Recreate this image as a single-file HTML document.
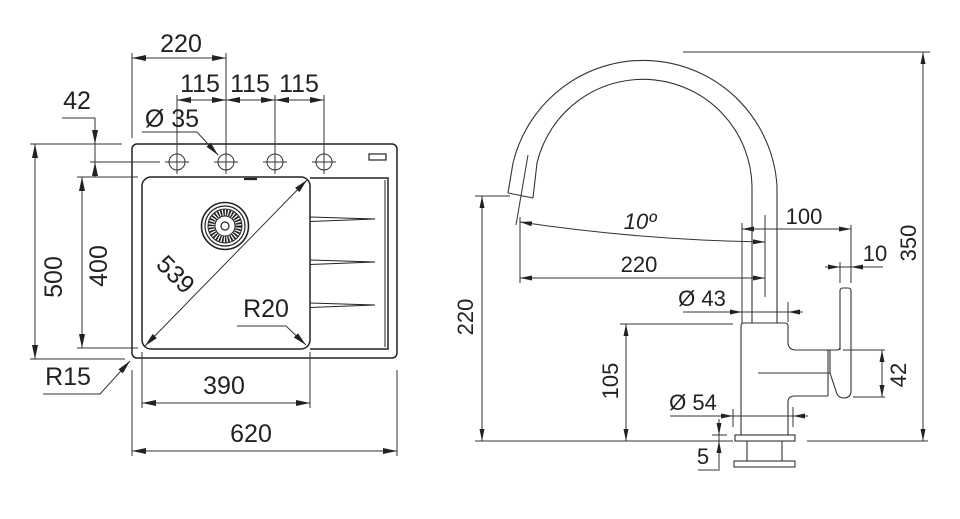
<!DOCTYPE html>
<html><head><meta charset="utf-8"><style>
html,body{margin:0;padding:0;background:#fff;}
svg{display:block;}
text{font-family:"Liberation Sans",Arial,sans-serif;fill:#222;}
</style></head><body>
<svg width="960" height="519" viewBox="0 0 960 519" xmlns="http://www.w3.org/2000/svg">
<defs>
<marker id="m" viewBox="0 0 14 6" refX="14" refY="3" markerWidth="14" markerHeight="6" markerUnits="userSpaceOnUse" orient="auto-start-reverse"><path d="M0,0L14,3L0,6z" fill="#222"/></marker>
<marker id="n" viewBox="0 0 12 5" refX="12" refY="2.5" markerWidth="12" markerHeight="5" markerUnits="userSpaceOnUse" orient="auto-start-reverse"><path d="M0,0L12,2.5L0,5z" fill="#222"/></marker>
</defs>

<!-- ============ LEFT: SINK ============ -->
<g fill="none" stroke="#222" stroke-width="1.5">
<rect x="132" y="144" width="265" height="214" rx="5"/>
<rect x="142" y="177" width="168" height="172" rx="9"/>
<path d="M310,178 L388,178 L388,349 L310,349"/>
<path d="M385,180 L385,347" stroke-width="1"/>
<!-- ribs -->
<path d="M310,217 L375,219 L310,221.5" stroke-width="1.1"/>
<path d="M310,260 L375,262 L310,264.5" stroke-width="1.1"/>
<path d="M310,303 L375,305 L310,307.5" stroke-width="1.1"/>
<!-- overflow -->
<path d="M244,179 L257,179" stroke-width="2.2"/>
<!-- small rect -->
<rect x="369" y="154" width="17" height="6" stroke-width="1.2"/>
</g>
<!-- drain -->
<g fill="none" stroke="#222">
<circle cx="225" cy="226" r="23.5" stroke-width="1.6"/>
<circle cx="225" cy="226" r="20" stroke-width="1.2"/>
<circle cx="225" cy="226" r="17" stroke-width="1"/>
<circle cx="225" cy="226" r="13.5" stroke-width="6" stroke-dasharray="1.6 1.2"/>
<circle cx="225" cy="226" r="10" stroke-width="1"/>
<circle cx="225" cy="226" r="4" stroke-width="1.2"/>
</g>
<!-- tap holes -->
<g fill="none" stroke="#333" stroke-width="1">
<circle cx="177" cy="162" r="8"/><circle cx="226" cy="162" r="8"/><circle cx="275" cy="162" r="8"/><circle cx="324" cy="162" r="8"/>
<path d="M165,162H189M214,162H238M263,162H287M312,162H336"/>
<path d="M177,95V174M226,53V174M275,95V174M324,95V174"/>
</g>

<!-- dimension lines left -->
<g fill="none" stroke="#333" stroke-width="1">
<path d="M132,53V138M30,144H122M30,359H125M77,177H138M77,348H138M90,162H160M62,118H95V177M142,352V408M310,352V408M132,370V456M397,370V456"/>
<line x1="132" y1="58" x2="226" y2="58" marker-start="url(#m)" marker-end="url(#m)"/>
<line x1="177" y1="100" x2="226" y2="100" marker-start="url(#m)" marker-end="url(#m)"/>
<line x1="226" y1="100" x2="275" y2="100" marker-start="url(#m)" marker-end="url(#m)"/>
<line x1="275" y1="100" x2="324" y2="100" marker-start="url(#m)" marker-end="url(#m)"/>
<line x1="95" y1="125" x2="95" y2="144" marker-end="url(#m)"/>
<line x1="95" y1="177" x2="95" y2="162" marker-end="url(#m)"/>
<line x1="35" y1="144" x2="35" y2="359" marker-start="url(#m)" marker-end="url(#m)"/>
<line x1="82" y1="177" x2="82" y2="348" marker-start="url(#m)" marker-end="url(#m)"/>
<line x1="145" y1="346" x2="307" y2="180" marker-start="url(#m)" marker-end="url(#m)"/>
<polyline points="237,326 286,326 306,345" marker-end="url(#m)"/>
<polyline points="43,394 100,394 130,361" marker-end="url(#m)"/>
<polyline points="142,132 197,132 218,155" marker-end="url(#m)"/>
<line x1="142" y1="403" x2="310" y2="403" marker-start="url(#m)" marker-end="url(#m)"/>
<line x1="132" y1="451" x2="397" y2="451" marker-start="url(#m)" marker-end="url(#m)"/>
</g>

<g font-size="25" text-anchor="middle">
<text x="181" y="52">220</text>
<text x="200" y="92">115</text>
<text x="250" y="92">115</text>
<text x="299" y="92">115</text>
<text x="77" y="109">42</text>
<text x="172" y="127">Ø 35</text>
<text x="266" y="317">R20</text>
<text x="68" y="385">R15</text>
<text x="224" y="394">390</text>
<text x="251" y="442">620</text>
<text transform="translate(53,277) rotate(-90)" x="0" y="9">500</text>
<text transform="translate(98,266) rotate(-90)" x="0" y="9">400</text>
<text transform="translate(176,274) rotate(45)" x="0" y="9">539</text>
</g>

<!-- ============ RIGHT: FAUCET ============ -->
<g fill="none" stroke="#333" stroke-width="1.1">
<path d="M508,193 L513,163 A134,134 0 0 1 777,186 L777,323"/>
<path d="M533,198 L537,163 A109,109 0 0 1 752,186 L752,323"/>
<path d="M508,193 L533,198"/>
<path d="M528,155 L516,225" stroke-width="1"/>
<path d="M741,435 L741,326 Q741,323 744,323 L785,323 Q788,323 788,326 L788,342 Q788,350 796,350 L837,350 Q840,350 840,347"/>
<path d="M840,350 L840,291 Q840,288 843,288 L848,288 Q851,288 851,291 L851,392 Q850,398 844,398 Q839,398 837,394 L830,373"/>
<path d="M828,350 L828,396 M830,350 L830,373"/>
<path d="M788,435 L788,402 Q788,396 795,396 L828,396"/>
<path d="M758,373 L830,373" stroke-width="1"/>
<rect x="735" y="435" width="60" height="6"/>
<path d="M747,441 L747,461 M782,441 L782,461"/>
<rect x="734" y="461" width="61" height="6"/>
</g>

<g fill="none" stroke="#333" stroke-width="1">
<path d="M683,52H930M475,196H510M475,441H733M807,441H928M520,217V283M765,215V297M742,223V323M851,225V283M840,262V283M788,302V322M620,324H733M733,409V427M793,407V427M712,435H727M698,470H720M843,350H885M853,397H885"/>
<line x1="923" y1="52" x2="923" y2="441" marker-start="url(#n)" marker-end="url(#n)"/>
<line x1="482" y1="196" x2="482" y2="441" marker-start="url(#n)" marker-end="url(#n)"/>
<path d="M520,222 Q640,240 765,242" marker-start="url(#n)" marker-end="url(#n)"/>
<line x1="520" y1="278" x2="765" y2="278" marker-start="url(#n)" marker-end="url(#n)"/>
<line x1="742" y1="229" x2="851" y2="229" marker-start="url(#n)" marker-end="url(#n)"/>
<line x1="825" y1="267" x2="840" y2="267" marker-end="url(#n)"/>
<line x1="883" y1="267" x2="851" y2="267" marker-end="url(#n)"/>
<line x1="840" y1="267" x2="851" y2="267"/>
<line x1="683" y1="312" x2="742" y2="312" marker-end="url(#n)"/>
<line x1="803" y1="312" x2="788" y2="312" marker-end="url(#n)"/>
<line x1="742" y1="312" x2="788" y2="312"/>
<line x1="626" y1="324" x2="626" y2="441" marker-start="url(#n)" marker-end="url(#n)"/>
<line x1="670" y1="416" x2="733" y2="416" marker-end="url(#n)"/>
<line x1="808" y1="416" x2="793" y2="416" marker-end="url(#n)"/>
<line x1="733" y1="416" x2="793" y2="416"/>
<line x1="719" y1="419" x2="719" y2="435" marker-end="url(#n)"/>
<line x1="719" y1="469" x2="719" y2="441" marker-end="url(#n)"/>
<line x1="719" y1="435" x2="719" y2="441"/>
<line x1="882" y1="350" x2="882" y2="397" marker-start="url(#n)" marker-end="url(#n)"/>
</g>

<g font-size="22" text-anchor="middle">
<text x="640" y="229" font-style="italic">10º</text>
<text x="639" y="272">220</text>
<text x="804" y="224">100</text>
<text x="875" y="261">10</text>
<text x="702" y="306">Ø 43</text>
<text x="693" y="410">Ø 54</text>
<text x="703" y="464">5</text>
<text transform="translate(465,317) rotate(-90)" x="0" y="8">220</text>
<text transform="translate(610,381) rotate(-90)" x="0" y="8">105</text>
<text transform="translate(898,375) rotate(-90)" x="0" y="8">42</text>
<text transform="translate(908,243) rotate(-90)" x="0" y="8">350</text>
</g>
</svg>
</body></html>
